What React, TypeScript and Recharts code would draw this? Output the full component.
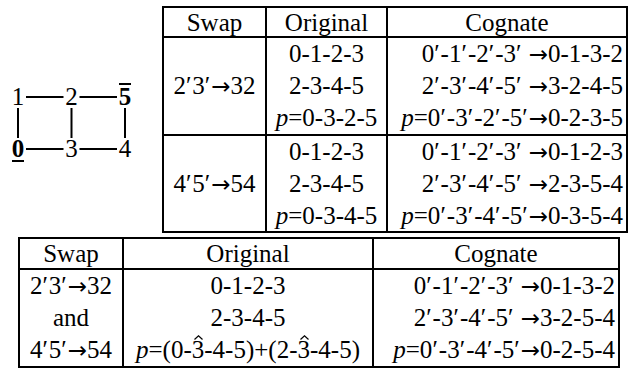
import React from 'react';
import { ScatterChart, Scatter, XAxis, YAxis } from 'recharts';

// graph: nodes on a 3x2 grid
const nodeNames = ['1', '2', '5', '0', '3', '4'];
const nodeX = [0, 1, 2, 0, 1, 2];
const nodeY = [1, 1, 1, 0, 0, 0];
const nodeMark = ['', '', 'over', 'under', '', ''];
const outerPath = ['1', '2', '5', '4', '3', '0', '1'];
const middlePath = ['2', '3'];

// tables
const headers = ['Swap', 'Original', 'Cognate'];
const topSwap = ['2′3′→32', '4′5′→54'];
const topOriginal = [
  ['0-1-2-3', '2-3-4-5', 'p=0-3-2-5'],
  ['0-1-2-3', '2-3-4-5', 'p=0-3-4-5'],
];
const topCognate = [
  ['0′-1′-2′-3′ →0-1-3-2', '2′-3′-4′-5′ →3-2-4-5', 'p=0′-3′-2′-5′→0-2-3-5'],
  ['0′-1′-2′-3′ →0-1-2-3', '2′-3′-4′-5′ →2-3-5-4', 'p=0′-3′-4′-5′→0-3-5-4'],
];
const bottomSwap = ['2′3′→32', 'and', '4′5′→54'];
const bottomOriginal = ['0-1-2-3', '2-3-4-5', 'p=(0-3\u0302-4-5)+(2-3\u0302-4-5)'];
const bottomCognate = ['0′-1′-2′-3′ →0-1-3-2', '2′-3′-4′-5′ →3-2-5-4', 'p=0′-3′-4′-5′→0-2-5-4'];

const FONT = "'Liberation Serif', 'Times New Roman', serif";
const FS = 25;
const LINE = '2px solid #000';

const nodes = nodeNames.map((name, i) => ({ name, x: nodeX[i], y: nodeY[i], mark: nodeMark[i] }));
const byName = (n: string) => nodes.find((d) => d.name === n)!;
const outerData = outerPath.map(byName);
const middleData = middlePath.map(byName);

const NodeLabel = (props: any) => {
  const { cx, cy, payload } = props;
  const bold = payload.mark !== '';
  return (
    <g>
      <rect x={cx - 8} y={cy - 11} width={16} height={22} fill="#fff" />
      <text
        x={cx}
        y={cy + 8}
        textAnchor="middle"
        fontFamily={FONT}
        fontSize={FS}
        fontWeight={bold ? 700 : 400}
        fill="#000"
      >
        {payload.name}
      </text>
      {payload.mark === 'under' && <line x1={cx - 6} x2={cx + 6} y1={cy + 12} y2={cy + 12} stroke="#000" strokeWidth={2} />}
      {payload.mark === 'over' && <line x1={cx - 6} x2={cx + 6} y1={cy - 13} y2={cy - 13} stroke="#000" strokeWidth={2} />}
    </g>
  );
};

const GraphDiagram = () => (
  <div style={{ position: 'absolute', left: -2, top: 77 }}>
    <ScatterChart width={147} height={92} margin={{ top: 20, right: 20, bottom: 20, left: 20 }}>
      <XAxis type="number" dataKey="x" domain={[0, 2]} hide />
      <YAxis type="number" dataKey="y" domain={[0, 1]} hide />
      <Scatter data={outerData} line={{ stroke: '#000', strokeWidth: 2 }} shape={() => <g />} isAnimationActive={false} />
      <Scatter data={middleData} line={{ stroke: '#000', strokeWidth: 2 }} shape={() => <g />} isAnimationActive={false} />
      <Scatter data={nodes} shape={NodeLabel} isAnimationActive={false} />
    </ScatterChart>
  </div>
);

// arrows, primes and hats set the way the math font does
const rich = (s: string) =>
  s.split(/(→|′|\d\u0302)/).map((part, i) => {
    if (part === '→')
      return (
        <span key={i} style={{ fontFamily: "'DejaVu Sans'", fontSize: 23 }}>
          →
        </span>
      );
    if (part === '′')
      return (
        <span key={i} style={{ marginRight: 1 }}>
          ′
        </span>
      );
    if (part.endsWith('\u0302'))
      return (
        <span key={i} style={{ position: 'relative', display: 'inline-block' }}>
          {part[0]}
          <svg width={9} height={5} style={{ position: 'absolute', left: 2, top: -2 }}>
            <polyline points="0.5,4.5 4.5,0.8 8.5,4.5" fill="none" stroke="#000" strokeWidth={1.2} />
          </svg>
        </span>
      );
    return part;
  });

const cellText = (s: string) =>
  s.startsWith('p=') ? (
    <>
      <i>p</i>
      {rich(s.slice(1))}
    </>
  ) : (
    rich(s)
  );

const baseCell: React.CSSProperties = {
  borderLeft: LINE,
  borderRight: LINE,
  padding: '0 3px',
  whiteSpace: 'nowrap',
  fontWeight: 400,
  verticalAlign: 'middle',
};
const align = ['center', 'center', 'right'] as const;

const TopTable = () => (
  <table
    style={{
      position: 'absolute',
      left: 162,
      top: 6,
      width: 464,
      borderCollapse: 'collapse',
      tableLayout: 'fixed',
      fontFamily: FONT,
      fontSize: FS,
      lineHeight: 1,
    }}
  >
    <colgroup>
      <col style={{ width: 103 }} />
      <col style={{ width: 121 }} />
      <col style={{ width: 240 }} />
    </colgroup>
    <tbody>
      <tr style={{ height: 30 }}>
        {headers.map((h) => (
          <td key={h} style={{ ...baseCell, border: LINE, textAlign: 'center' }}>{h}</td>
        ))}
      </tr>
      {topSwap.map((sw, g) =>
        topOriginal[g].map((orig, r) => (
          <tr key={`${g}-${r}`} style={{ height: 32.5 }}>
            {r === 0 && (
              <td rowSpan={3} style={{ ...baseCell, borderTop: LINE, borderBottom: LINE, textAlign: 'center' }}>
                {rich(sw)}
              </td>
            )}
            <td style={{ ...baseCell, textAlign: align[1], borderTop: r === 0 ? LINE : 'none', borderBottom: r === 2 ? LINE : 'none' }}>
              {cellText(orig)}
            </td>
            <td style={{ ...baseCell, textAlign: align[2], borderTop: r === 0 ? LINE : 'none', borderBottom: r === 2 ? LINE : 'none' }}>
              {cellText(topCognate[g][r])}
            </td>
          </tr>
        ))
      )}
    </tbody>
  </table>
);

const BottomTable = () => (
  <table
    style={{
      position: 'absolute',
      left: 18,
      top: 237,
      width: 600,
      borderCollapse: 'collapse',
      tableLayout: 'fixed',
      fontFamily: FONT,
      fontSize: FS,
      lineHeight: 1,
    }}
  >
    <colgroup>
      <col style={{ width: 104 }} />
      <col style={{ width: 250 }} />
      <col style={{ width: 246 }} />
    </colgroup>
    <tbody>
      <tr style={{ height: 31 }}>
        {headers.map((h) => (
          <td key={h} style={{ ...baseCell, border: LINE, textAlign: 'center' }}>{h}</td>
        ))}
      </tr>
      {bottomSwap.map((sw, r) => {
        const edge = { borderTop: r === 0 ? LINE : 'none', borderBottom: r === 2 ? LINE : 'none' };
        return (
          <tr key={r} style={{ height: 32.5 }}>
            <td style={{ ...baseCell, ...edge, textAlign: align[0], padding: 0 }}>{rich(sw)}</td>
            <td style={{ ...baseCell, ...edge, textAlign: align[1] }}>{cellText(bottomOriginal[r])}</td>
            <td style={{ ...baseCell, ...edge, textAlign: align[2] }}>{cellText(bottomCognate[r])}</td>
          </tr>
        );
      })}
    </tbody>
  </table>
);

export default function App() {
  return (
    <div style={{ position: 'absolute', left: 0, top: 0, width: 632, height: 368, background: '#fff', color: '#000' }}>
      <GraphDiagram />
      <TopTable />
      <BottomTable />
    </div>
  );
}
